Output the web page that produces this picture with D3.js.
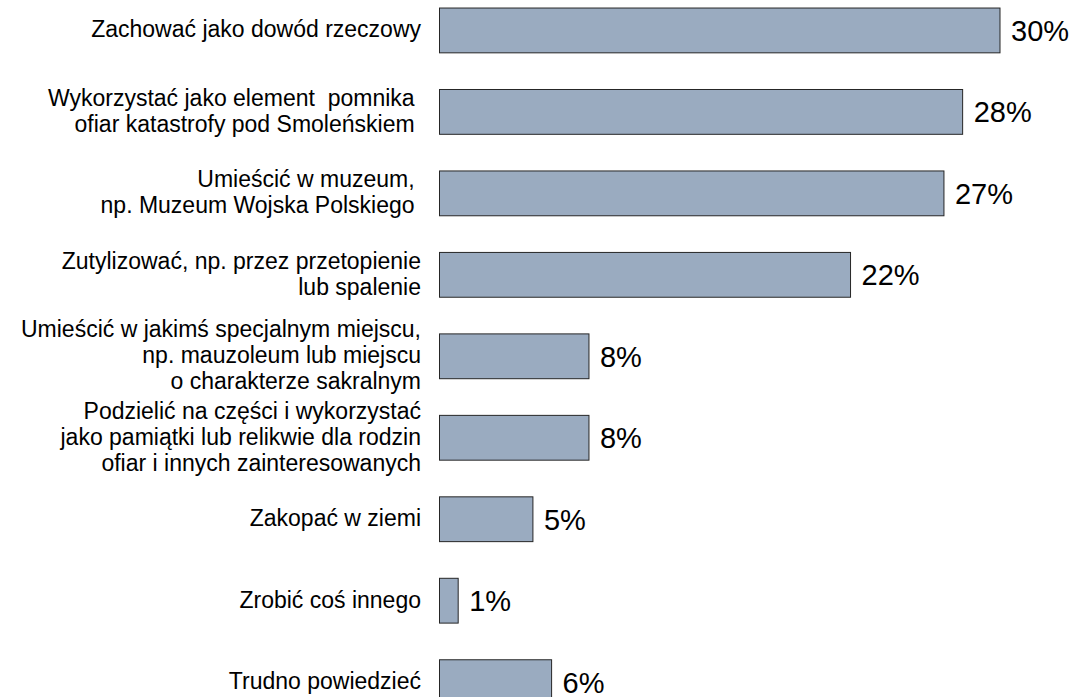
<!DOCTYPE html>
<html>
<head>
<meta charset="utf-8">
<script src="https://cdn.jsdelivr.net/npm/d3@7"></script>
<style>
    body { margin: 0; background: #fff; }
    svg { display: block; font-family: "Liberation Sans", Arial, sans-serif; }
</style>
</head>
<body>
<div id="chart_container"></div>
<script>
// answers (one array per line of the label) and shares in percent
const categories = [
    ["Zachować jako dowód rzeczowy"],
    ["Wykorzystać jako element  pomnika ", "ofiar katastrofy pod Smoleńskiem "],
    ["Umieścić w muzeum, ", "np. Muzeum Wojska Polskiego "],
    ["Zutylizować, np. przez przetopienie", "lub spalenie"],
    ["Umieścić w jakimś specjalnym miejscu,", "np. mauzoleum lub miejscu", "o charakterze sakralnym"],
    ["Podzielić na części i wykorzystać", "jako pamiątki lub relikwie dla rodzin", "ofiar i innych zainteresowanych"],
    ["Zakopać w ziemi"],
    ["Zrobić coś innego"],
    ["Trudno powiedzieć"]
];
const values = [30, 28, 27, 22, 8, 8, 5, 1, 6];
const valueLabels = ["30%", "28%", "27%", "22%", "8%", "8%", "5%", "1%", "6%"];

const chart_width = 1074, chart_height = 697;

const svg = d3.select("#chart_container")
    .append("svg")
    .attr("width", chart_width)
    .attr("height", chart_height);

const data = values.map((v, i) => ({ lines: categories[i], value: v, label: valueLabels[i], idx: i }));

const x = d3.scaleLinear()
    .domain([0, 30])
    .range([439.5, 1000]);

const y = d3.scaleBand()
    .domain(d3.range(values.length))
    .range([-10.3, 722.9])
    .paddingInner(0.45)
    .paddingOuter(0.225);

const rows = svg.selectAll(".row")
    .data(data)
    .enter()
    .append("g")
    .classed("row", true);

rows.append("rect")
    .attr("x", d => x(0))
    .attr("y", d => y(d.idx))
    .attr("width", d => x(d.value) - x(0))
    .attr("height", y.bandwidth())
    .attr("fill", "#9aabc0")
    .style("stroke", "#262626")
    .style("stroke-width", 1);

// value labels right of the bars
rows.append("text")
    .attr("x", d => x(d.value) + 11)
    .attr("y", d => y(d.idx) + y.bandwidth() / 2)
    .attr("dy", "0.36em")
    .style("font-size", "29px")
    .attr("fill", "#000")
    .text(d => d.label);

// category labels, multi line, right aligned
const lineHeight = 26;
const labels = rows.append("text")
    .attr("text-anchor", "end")
    .style("font-size", "23px")
    .style("white-space", "pre")
    .attr("fill", "#000");

labels.selectAll("tspan")
    .data(d => d.lines.map((t, k) => ({ t: t, k: k, n: d.lines.length, idx: d.idx })))
    .enter()
    .append("tspan")
    .attr("x", 421)
    .attr("y", l => y(l.idx) + y.bandwidth() / 2 + (l.k - (l.n - 1) / 2) * lineHeight - 1)
    .attr("dy", "0.35em")
    .text(l => l.t);
</script>
</body>
</html>
